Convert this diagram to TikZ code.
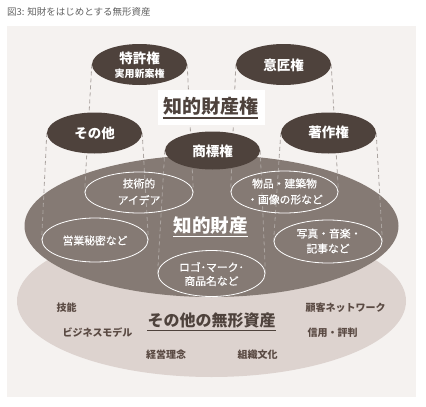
\documentclass[tikz,border=0pt]{standalone}
\usepackage{fontspec}
\newfontfamily\jp{Noto Sans CJK JP}
\newfontfamily\jpm[FakeBold=0.5]{Noto Sans CJK JP}
\usetikzlibrary{shapes.geometric}
\definecolor{panel}{HTML}{F5F2F0}
\definecolor{outerc}{HTML}{DDD3CF}
\definecolor{midc}{HTML}{857A74}
\definecolor{topc}{HTML}{4E423C}
\definecolor{dashc}{HTML}{ACA5A1}
\definecolor{labc}{HTML}{5A4A43}
\definecolor{titlec}{HTML}{606060}
\pgfdeclarelayer{back}
\pgfdeclarelayer{lines}
\pgfsetlayers{back,lines,main}
\begin{document}
\begin{tikzpicture}[x=1pt,y=-1pt,
  topell/.style={ellipse, fill=topc, minimum width=95pt, minimum height=41pt, inner sep=0pt},
  inell/.style={ellipse, draw=white, line width=0.8pt, inner sep=0pt},
  toplab/.style={text=white, font=\jp\bfseries\fontsize{13.5}{16}\selectfont, inner sep=0pt},
  smalllab/.style={text=white, font=\jp\bfseries\fontsize{10}{12}\selectfont, inner sep=0pt},
  inlab/.style={text=white, font=\jpm\fontsize{10.8}{13}\selectfont, inner sep=0pt},
  outlab/.style={text=labc, font=\jp\bfseries\fontsize{10}{12}\selectfont, inner sep=0pt},
  dashline/.style={draw=dashc, line width=0.8pt, dash pattern=on 4pt off 3pt},
]
\useasboundingbox (0,0) rectangle (426,407);

\begin{pgfonlayer}{back}
\fill[panel] (7,26) rectangle (416,397);
\node[ellipse, fill=outerc, minimum width=389pt, minimum height=152pt, inner sep=0pt] (mukei) at (211.5,301) {};
\node[ellipse, fill=midc, minimum width=374pt, minimum height=142pt, inner sep=0pt] (chizai) at (211.5,226) {};
\end{pgfonlayer}

% title
\node[anchor=west, inner sep=0pt, text=titlec, font=\jp\fontsize{9.5}{11}\selectfont] (title) at (7,12) {図3: 知財をはじめとする無形資産};

% top ellipses
\node[topell] (tokkyo) at (139.5,64.5) {};
\node[topell] (isho) at (283.5,64.5) {};
\node[topell] (sonota) at (94.5,133) {};
\node[topell] (chosaku) at (328.5,133) {};
\node[topell, minimum height=38pt] (shohyo) at (212.5,150.5) {};

\node[toplab] (tokkyoT) at (139.5,58) {特許権};
\node[smalllab] (jitsuyoT) at (139.5,73.5) {実用新案権};
\node[toplab] (ishoT) at (283.5,65) {意匠権};
\node[toplab] (sonotaT) at (94.5,133) {その他};
\node[toplab] (chosakuT) at (328.5,132.5) {著作権};
\node[toplab] (shohyoT) at (212.5,151) {商標権};

% inner ellipses
\node[inell, minimum width=108pt, minimum height=41pt] (gijutsu) at (139,192.5) {};
\node[inell, minimum width=106pt, minimum height=44pt] (eigyo) at (95,240) {};
\node[inell, minimum width=107pt, minimum height=42pt] (buppin) at (284.5,192) {};
\node[inell, minimum width=108pt, minimum height=43pt] (shashin) at (328,241.5) {};
\node[inell, minimum width=107pt, minimum height=46pt] (logo) at (211.5,273.5) {};

\node[inlab] (gijutsuA) at (139,183.5) {技術的};
\node[inlab] (gijutsuB) at (139,200) {アイデア};
\node[inlab] (eigyoT) at (95,240.5) {営業秘密など};
\node[inlab] (buppinA) at (284.5,183.5) {物品・建築物};
\node[inlab] (buppinB) at (285,199.5) {・画像の形など};
\node[inlab] (shashinA) at (329,233.5) {写真・音楽・};
\node[inlab] (shashinB) at (328,248.5) {記事など};
\node[inlab] (logoA) at (211.5,267) {ロゴ･マーク･};
\node[inlab] (logoB) at (211.5,281) {商品名など};

% dashed connectors
\begin{pgfonlayer}{lines}
\draw[dashline] (tokkyo.west) -- (gijutsu.west);
\draw[dashline] (tokkyo.east) -- (gijutsu.east);
\draw[dashline] (isho.west) -- (buppin.west);
\draw[dashline] (isho.east) -- (buppin.east);
\draw[dashline] (sonota.west) -- (eigyo.west);
\draw[dashline] (sonota.east) -- (eigyo.east);
\draw[dashline] (chosaku.west) -- (shashin.west);
\draw[dashline] (chosaku.east) -- (shashin.east);
\draw[dashline] (shohyo.west) -- (logo.west);
\draw[dashline] (shohyo.east) -- (logo.east);
\end{pgfonlayer}

% headings
\node[fill=white, minimum width=107pt, minimum height=35pt, inner sep=0pt] (chizaikenBox) at (211.5,107.5) {};
\node[inner sep=0pt, text=topc, font=\jp\bfseries\fontsize{19}{22}\selectfont] (chizaikenT) at (210.5,106) {知的財産権};
\draw[topc, line width=1.6pt] ([yshift=-2.5pt]chizaikenT.south west) -- ([yshift=-2.5pt]chizaikenT.south east);

\node[inner sep=0pt, text=white, font=\jp\bfseries\fontsize{18.5}{22}\selectfont] (chizaiT) at (210.5,225) {知的財産};
\draw[white, line width=1.2pt] ([yshift=-2.5pt]chizaiT.south west) -- ([yshift=-2.5pt]chizaiT.south east);

\node[inner sep=0pt, text=topc, font=\jp\bfseries\fontsize{16}{19}\selectfont] (mukeiT) at (211.5,320) {その他の無形資産};
\draw[topc, line width=1.4pt] ([yshift=-2.5pt]mukeiT.south west) -- ([yshift=-2.5pt]mukeiT.south east);

% other intangible assets
\node[outlab] (gino) at (66.5,307.5) {技能};
\node[outlab] (biz) at (97.5,333) {ビジネスモデル};
\node[outlab] (keiei) at (166,355) {経営理念};
\node[outlab] (soshiki) at (257.5,355) {組織文化};
\node[outlab] (kokyaku) at (345.5,307.5) {顧客ネットワーク};
\node[outlab] (shinyo) at (332.5,333) {信用・評判};
\end{tikzpicture}
\end{document}
